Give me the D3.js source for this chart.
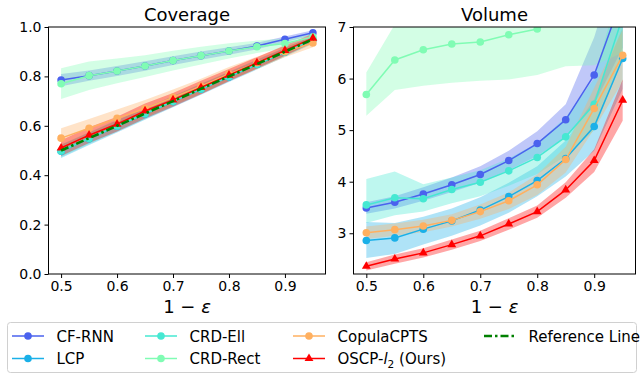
<!DOCTYPE html>
<html><head><meta charset="utf-8">
<script src="https://cdn.jsdelivr.net/npm/d3@7"></script>
<style>body{margin:0;background:#fff}svg{display:block;font-family:"DejaVu Sans",sans-serif}</style>
</head><body><svg id="c" width="641" height="375"></svg>
<script>
const xs = [0.5,0.55,0.6,0.65,0.7,0.75,0.8,0.85,0.9,0.95];
const seriesNames = ["CF-RNN","LCP","CRD-Ell","CRD-Rect","CopulaCPTS","OSCP-l2 (Ours)"];
const seriesColors = ["#4a62ee","#1ab0e8","#46e8d2","#80fcb4","#ffb060","#ff0000"];
const refColor = "#008000";
const covTicks = [0.0,0.2,0.4,0.6,0.8,1.0];
const volTicks = [3,4,5,6,7];
const xTicks = [0.5,0.6,0.7,0.8,0.9];

// Coverage means and band lows/highs
const covCFRNN   = [0.785,0.803,0.822,0.842,0.864,0.884,0.903,0.923,0.950,0.977];
const covCFRNNLo = [0.760,0.782,0.802,0.823,0.846,0.867,0.888,0.910,0.938,0.967];
const covCFRNNHi = [0.810,0.824,0.842,0.861,0.882,0.901,0.918,0.936,0.962,0.987];
const covLCP     = [0.497,0.548,0.598,0.648,0.698,0.748,0.798,0.848,0.898,0.948];
const covLCPLo   = [0.470,0.522,0.573,0.624,0.675,0.726,0.777,0.828,0.880,0.932];
const covLCPHi   = [0.524,0.574,0.623,0.672,0.721,0.770,0.819,0.868,0.916,0.964];
const covEll     = [0.498,0.549,0.599,0.649,0.699,0.749,0.799,0.849,0.899,0.949];
const covEllLo   = [0.474,0.526,0.577,0.628,0.679,0.730,0.781,0.832,0.883,0.935];
const covEllHi   = [0.522,0.572,0.621,0.670,0.719,0.768,0.817,0.866,0.915,0.963];
const covRect    = [0.770,0.803,0.822,0.842,0.864,0.884,0.903,0.920,0.933,0.960];
const covRectLo  = [0.708,0.745,0.772,0.798,0.824,0.848,0.872,0.895,0.913,0.945];
const covRectHi  = [0.833,0.860,0.872,0.886,0.904,0.920,0.934,0.945,0.953,0.975];
const covCopula  = [0.550,0.590,0.630,0.670,0.715,0.760,0.810,0.855,0.900,0.935];
const covCopulaLo= [0.512,0.553,0.594,0.636,0.683,0.730,0.782,0.830,0.878,0.918];
const covCopulaHi= [0.590,0.628,0.666,0.704,0.747,0.790,0.838,0.880,0.922,0.952];
const covOSCP    = [0.510,0.562,0.607,0.660,0.705,0.755,0.805,0.855,0.905,0.955];
const covOSCPLo  = [0.478,0.530,0.577,0.630,0.677,0.728,0.780,0.832,0.884,0.937];
const covOSCPHi  = [0.542,0.594,0.637,0.690,0.733,0.782,0.830,0.878,0.926,0.973];
const covRef     = [0.50,0.55,0.60,0.65,0.70,0.75,0.80,0.85,0.90,0.95];

// Volume means and band lows/highs
const volCFRNN   = [3.49,3.60,3.76,3.94,4.14,4.41,4.74,5.20,6.07,7.60];
const volCFRNNLo = [3.38,3.48,3.63,3.80,3.98,4.22,4.50,4.86,5.50,6.60];
const volCFRNNHi = [3.60,3.72,3.89,4.08,4.30,4.60,4.98,5.50,6.80,8.60];
const volLCP     = [2.86,2.91,3.08,3.24,3.45,3.71,4.02,4.45,5.07,6.39];
const volLCPLo   = [2.52,2.60,2.78,2.95,3.15,3.40,3.72,4.10,4.60,5.80];
const volLCPHi   = [3.22,3.20,3.32,3.48,3.70,3.98,4.30,4.80,5.60,7.00];
const volEll     = [3.55,3.69,3.67,3.85,3.99,4.21,4.47,4.87,5.50,7.20];
const volEllLo   = [3.20,3.35,3.42,3.58,3.72,3.92,4.15,4.50,5.00,6.40];
const volEllHi   = [4.05,4.20,3.95,4.08,4.22,4.45,4.75,5.25,6.00,8.00];
const volRect    = [5.69,6.36,6.56,6.67,6.71,6.85,6.96,7.30,7.90,8.80];
const volRectLo  = [5.28,5.78,5.86,5.92,5.96,5.98,6.07,6.24,6.26,6.50];
const volRectHi  = [6.12,7.05,7.30,7.40,7.50,7.60,7.70,8.00,8.80,9.50];
const volCopula  = [3.01,3.07,3.14,3.25,3.42,3.63,3.94,4.43,5.42,6.45];
const volCopulaLo= [2.89,2.95,3.02,3.13,3.28,3.47,3.74,4.18,5.02,5.95];
const volCopulaHi= [3.13,3.19,3.26,3.37,3.56,3.79,4.14,4.68,5.82,6.95];
const volOSCP    = [2.36,2.50,2.62,2.78,2.95,3.18,3.42,3.84,4.41,5.58];
const volOSCPLo  = [2.28,2.41,2.53,2.68,2.85,3.07,3.30,3.69,4.19,5.18];
const volOSCPHi  = [2.44,2.59,2.71,2.88,3.05,3.29,3.54,3.99,4.63,5.98];

const cov = [
  [covCFRNN,covCFRNNLo,covCFRNNHi],[covLCP,covLCPLo,covLCPHi],[covEll,covEllLo,covEllHi],
  [covRect,covRectLo,covRectHi],[covCopula,covCopulaLo,covCopulaHi],[covOSCP,covOSCPLo,covOSCPHi]];
const vol = [
  [volCFRNN,volCFRNNLo,volCFRNNHi],[volLCP,volLCPLo,volLCPHi],[volEll,volEllLo,volEllHi],
  [volRect,volRectLo,volRectHi],[volCopula,volCopulaLo,volCopulaHi],[volOSCP,volOSCPLo,volOSCPHi]];

const svg = d3.select("#c");
const plotTop = 27, plotBottom = 274;

function panel(id, x0, x1, ydom, yticks, fmt, data, title, withRef){
  const x = d3.scaleLinear().domain([0.4775,0.9725]).range([x0,x1]);
  const y = d3.scaleLinear().domain(ydom).range([plotBottom,plotTop]);
  const g = svg.append("g");
  svg.append("clipPath").attr("id",id).append("rect")
    .attr("x",x0).attr("y",plotTop).attr("width",x1-x0).attr("height",plotBottom-plotTop);
  const pg = g.append("g").attr("clip-path",`url(#${id})`);
  const area = d3.area().x((d,i)=>x(xs[i])).y0(d=>y(d[0])).y1(d=>y(d[1]));
  const line = d3.line().x((d,i)=>x(xs[i])).y(d=>y(d));
  data.forEach((s,k)=>{
    const pts = xs.map((_,i)=>[s[1][i],s[2][i]]);
    pg.append("path").attr("d",area(pts)).attr("fill",seriesColors[k]).attr("fill-opacity",0.35).attr("stroke","none");
  });
  data.forEach((s,k)=>{
    pg.append("path").attr("d",line(s[0])).attr("fill","none").attr("stroke",seriesColors[k]).attr("stroke-width",1.5);
    if(k===5){
      pg.selectAll(null).data(s[0]).enter().append("path")
        .attr("d",d3.symbol(d3.symbolTriangle,34)())
        .attr("transform",(d,i)=>`translate(${x(xs[i])},${y(d)})`)
        .attr("fill",seriesColors[k]);
    } else {
      pg.selectAll(null).data(s[0]).enter().append("circle")
        .attr("cx",(d,i)=>x(xs[i])).attr("cy",d=>y(d)).attr("r",3.8).attr("fill",seriesColors[k]);
    }
  });
  if(withRef){
    pg.append("path").attr("d",line(covRef)).attr("fill","none").attr("stroke",refColor)
      .attr("stroke-width",2.6).attr("stroke-dasharray","8,3,2.5,3");
  }
  const xa = g.append("g").attr("transform",`translate(0,${plotBottom})`)
    .call(d3.axisBottom(x).tickValues(xTicks).tickFormat(d3.format(".1f")).tickSizeOuter(0).tickSize(4));
  const ya = g.append("g").attr("transform",`translate(${x0},0)`)
    .call(d3.axisLeft(y).tickValues(yticks).tickFormat(fmt).tickSizeOuter(0).tickSize(4));
  [xa,ya].forEach(a=>{a.select(".domain").remove();
    a.selectAll("text").attr("font-size",14).attr("fill","#000").attr("font-family","DejaVu Sans");
    a.selectAll("line").attr("stroke","#000");});
  xa.selectAll("text").attr("dy","0.69em");
  g.append("rect").attr("x",x0).attr("y",plotTop).attr("width",x1-x0).attr("height",plotBottom-plotTop)
    .attr("fill","none").attr("stroke","#000").attr("stroke-width",1);
  g.append("text").attr("x",(x0+x1)/2).attr("y",21).attr("text-anchor","middle")
    .attr("font-size",18).text(title);
  const xl = g.append("text").attr("x",(x0+x1)/2).attr("y",313).attr("text-anchor","middle").attr("font-size",18);
  xl.append("tspan").text("1 − ");
  xl.append("tspan").attr("font-style","italic").text("ε");
}

panel("clipA",48.5,325.5,[0,1],covTicks,d3.format(".1f"),cov,"Coverage",true);
panel("clipB",353.5,635.5,[2.21,7],volTicks,d3.format("d"),vol,"Volume",false);

// Legend
const lg = svg.append("g");
lg.append("rect").attr("x",7.5).attr("y",322.5).attr("width",629).attr("height",50).attr("rx",3)
  .attr("fill","#fff").attr("stroke","#d0d0d0");
const colX = [12,145,293,484];
const rowY = [336,358.5];
const items = [
  {n:0,c:0,r:0},{n:1,c:0,r:1},{n:2,c:1,r:0},{n:3,c:1,r:1},{n:4,c:2,r:0},{n:5,c:2,r:1},{n:6,c:3,r:0}];
items.forEach(it=>{
  const x0 = colX[it.c], yy = rowY[it.r];
  if(it.n<6){
    lg.append("line").attr("x1",x0).attr("x2",x0+32).attr("y1",yy).attr("y2",yy)
      .attr("stroke",seriesColors[it.n]).attr("stroke-width",1.5);
    if(it.n===5){
      lg.append("path").attr("d",d3.symbol(d3.symbolTriangle,34)()).attr("transform",`translate(${x0+16},${yy})`).attr("fill",seriesColors[5]);
    } else {
      lg.append("circle").attr("cx",x0+16).attr("cy",yy).attr("r",3.8).attr("fill",seriesColors[it.n]);
    }
  } else {
    lg.append("line").attr("x1",x0).attr("x2",x0+32).attr("y1",yy).attr("y2",yy)
      .attr("stroke",refColor).attr("stroke-width",2.6).attr("stroke-dasharray","8,3,2.5,3");
  }
  const t = lg.append("text").attr("x",x0+44.5).attr("y",yy+5.5).attr("font-size",15);
  if(it.n===5){
    t.append("tspan").text("OSCP-");
    t.append("tspan").attr("font-style","italic").text("l");
    t.append("tspan").attr("font-size",10.5).attr("dy",3.5).text("2");
    t.append("tspan").attr("dy",-3.5).text(" (Ours)");
  } else if(it.n===6){
    t.text("Reference Line");
  } else {
    t.text(seriesNames[it.n]);
  }
});
</script></body></html>
